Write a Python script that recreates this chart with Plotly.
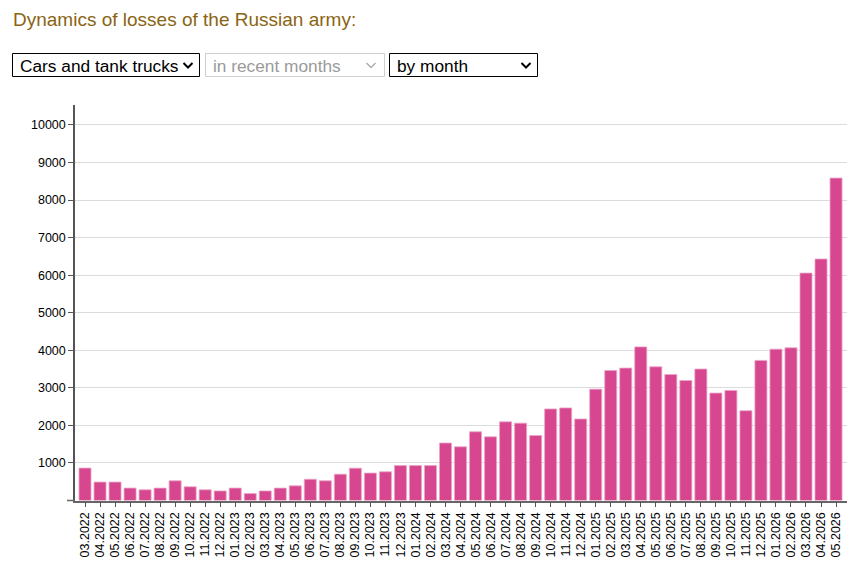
import plotly.graph_objects as go

W, H = 857, 571

months = [
    "03.2022", "04.2022", "05.2022", "06.2022", "07.2022", "08.2022", "09.2022", "10.2022", "11.2022", "12.2022",
    "01.2023", "02.2023", "03.2023", "04.2023", "05.2023", "06.2023", "07.2023", "08.2023", "09.2023", "10.2023", "11.2023", "12.2023",
    "01.2024", "02.2024", "03.2024", "04.2024", "05.2024", "06.2024", "07.2024", "08.2024", "09.2024", "10.2024", "11.2024", "12.2024",
    "01.2025", "02.2025", "03.2025", "04.2025", "05.2025", "06.2025", "07.2025", "08.2025", "09.2025", "10.2025", "11.2025", "12.2025",
    "01.2026", "02.2026", "03.2026", "04.2026", "05.2026",
]
losses = [
    862, 490, 490, 330, 285, 330, 525, 365, 285, 255,
    330, 185, 255, 330, 390, 565, 525, 700, 860, 730, 765, 930,
    930, 930, 1530, 1430, 1830, 1695, 2095, 2060, 1730, 2438, 2465, 2170,
    2965, 3460, 3525, 4090, 3560, 3355, 3195, 3500, 2860, 2930, 2390, 3730,
    4030, 4065, 6055, 6430, 8585,
]
y_ticks = [1000, 2000, 3000, 4000, 5000, 6000, 7000, 8000, 9000, 10000]
y_tick_labels = [str(v) for v in y_ticks]

title_text = "Dynamics of losses of the Russian army:"
select_texts = ["Cars and tank trucks", "in recent months", "by month"]

FONT = "Arial, 'Liberation Sans', sans-serif"


def px(x):
    return x / W


def py(y):
    return 1 - y / H


fig = go.Figure()
fig.add_trace(go.Bar(
    x=months,
    y=losses,
    marker=dict(color="#d6478f", line=dict(color="#eba3c6", width=0.8)),
    hoverinfo="x+y",
))

# plot area in pixels
x0, x1 = 75, 847
y_base, y_top = 500.5, 105

fig.update_layout(
    width=W, height=H, autosize=False,
    margin=dict(l=0, r=0, t=0, b=0),
    paper_bgcolor="white", plot_bgcolor="white",
    font=dict(family=FONT, size=12, color="#000"),
    showlegend=False,
    bargap=0.2,
    xaxis=dict(
        domain=[px(x0), px(x1)],
        type="category",
        range=[-0.666, 50.73],
        tickangle=-90,
        ticks="outside", ticklen=5, tickcolor="#555", tickwidth=1,
        showline=True, linecolor="#666", linewidth=1.5,
        showgrid=False,
        tickfont=dict(family=FONT, size=12.5, color="#000"),
        fixedrange=True,
    ),
    yaxis=dict(
        domain=[py(y_base), py(y_top)],
        range=[0, 10530],
        tickvals=y_ticks,
        ticktext=y_tick_labels,
        ticks="outside", ticklen=5, tickcolor="#555",
        showline=True, linecolor="#555", linewidth=1.5,
        showgrid=True, gridcolor="#dcdcdc", gridwidth=1.3,
        zeroline=False,
        tickfont=dict(family=FONT, size=12.5, color="#000"),
        fixedrange=True,
    ),
)

shapes = []
annotations = []

# extension of x-axis line to the left of y axis
shapes.append(dict(type="line", xref="paper", yref="paper",
                   x0=px(67), x1=px(x0), y0=py(y_base), y1=py(y_base),
                   line=dict(color="#666", width=1.5)))

# title
annotations.append(dict(text=title_text, xref="paper", yref="paper",
                        x=px(11), y=py(19.5), xanchor="left", yanchor="middle",
                        showarrow=False,
                        font=dict(family=FONT, size=19, color="#8a6414")))

# fake select boxes
boxes = [
    (12.5, 199.5, "#000", "#000", 17.5, 188),
    (205.5, 384.5, "#cfcfcf", "#9a9a9a", 210.5, 371),
    (389.5, 537.5, "#000", "#000", 394.5, 526),
]
for (bx0, bx1, border, tcolor, tx, cx), txt in zip(boxes, select_texts):
    shapes.append(dict(type="rect", xref="paper", yref="paper",
                       x0=px(bx0), x1=px(bx1), y0=py(76.5), y1=py(53.5),
                       line=dict(color=border, width=1), fillcolor="white"))
    annotations.append(dict(text=txt, xref="paper", yref="paper",
                            x=px(tx), y=py(65.5), xanchor="left", yanchor="middle",
                            showarrow=False,
                            font=dict(family=FONT, size=17.3, color=tcolor)))
    chev_color = "#000" if tcolor == "#000" else "#aaaaaa"
    shapes.append(dict(type="path", xref="paper", yref="paper",
                       path=f"M {px(cx-4.5)},{py(63)} L {px(cx)},{py(67.5)} L {px(cx+4.5)},{py(63)}",
                       line=dict(color=chev_color, width=2 if tcolor == "#000" else 1.3)))

fig.update_layout(shapes=shapes, annotations=annotations)

fig.write_html("out.html")
